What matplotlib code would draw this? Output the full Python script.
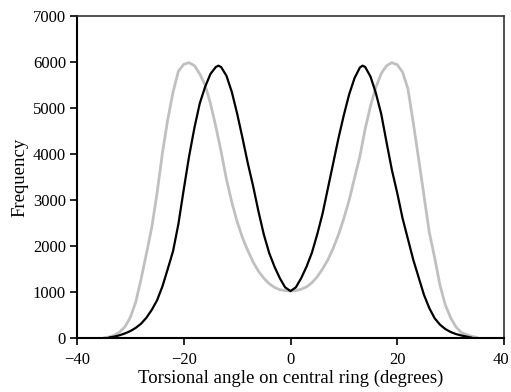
import numpy as np
import matplotlib.pyplot as plt
from matplotlib.transforms import ScaledTranslation

# Gray curve
gray_x = [-35, -34, -33, -32, -31, -30, -29, -28, -27, -26, -25, -24, -23, -22, -21, -20, -19, -18, -17, -16,
          -15, -14, -13, -12, -11, -10, -9, -8, -7, -6, -5, -4, -3, -2, -1, 0,
          1, 2, 3, 4, 5, 6, 7, 8, 9, 10, 11, 12, 13, 14, 15, 16, 17, 18, 19, 20,
          21, 22, 23, 24, 25, 26, 27, 28, 29, 30, 31, 32, 33, 34, 35]
gray_y = [5, 20, 60, 130, 246, 450, 780, 1280, 1830, 2400, 3150, 4020, 4750, 5350, 5800, 5950, 5985, 5920, 5740, 5500,
          5100, 4600, 4050, 3450, 2950, 2530, 2180, 1900, 1650, 1450, 1300, 1180, 1100, 1050, 1030, 1020,
          1030, 1060, 1110, 1200, 1330, 1500, 1700, 1950, 2250, 2600, 3000, 3480, 3950, 4550, 5050, 5450, 5750, 5920, 5985, 5940,
          5780, 5420, 4680, 3900, 3100, 2300, 1750, 1150, 720, 440, 240, 120, 70, 35, 10]

# Black curve
black_x = [-34, -33, -32, -31, -30, -29, -28, -27, -26, -25, -24, -23, -22, -21, -20, -19, -18, -17, -16,
           -15, -14, -13.5, -13, -12, -11, -10, -9, -8, -7, -6, -5, -4, -3, -2, -1, 0,
           1, 2, 3, 4, 5, 6, 7, 8, 9, 10, 11, 12, 13, 13.5, 14, 15, 16, 17, 18, 19, 20,
           21, 22, 23, 24, 25, 26, 27, 28, 29, 30, 31, 32, 33, 34]
black_y = [10, 30, 60, 100, 150, 220, 310, 440, 610, 820, 1120, 1500, 1890, 2480, 3230, 3950, 4570, 5100, 5460,
           5740, 5890, 5920, 5890, 5700, 5350, 4880, 4350, 3800, 3300, 2750, 2250, 1850, 1550, 1300, 1100, 1020,
           1100, 1300, 1550, 1850, 2250, 2700, 3250, 3800, 4350, 4850, 5300, 5650, 5880, 5920, 5890, 5680, 5320, 4870, 4250, 3650, 3150,
           2600, 2150, 1700, 1320, 940, 650, 430, 290, 195, 130, 85, 55, 30, 5]

x_ticks = [-40, -20, 0, 20, 40]
y_ticks = [0, 1000, 2000, 3000, 4000, 5000, 6000, 7000]

plt.rcParams['font.family'] = ['Liberation Serif', 'DejaVu Serif']

fig = plt.figure(figsize=(5.11, 3.92), dpi=100)
ax = fig.add_axes([0.1507, 0.1378, 0.8356, 0.8214])

ax.plot(gray_x, gray_y, color='#c0c0c0', lw=2.0, solid_capstyle='round', solid_joinstyle='round')
ax.plot(black_x, black_y, color='black', lw=1.6, solid_capstyle='round', solid_joinstyle='round')

ax.set_xlim(-40, 40)
ax.set_ylim(0, 7000)
ax.set_xticks(x_ticks)
ax.set_yticks(y_ticks)
ax.tick_params(axis='both', direction='out', length=5, width=1.2, labelsize=12, top=False, right=False)
ax.tick_params(axis='x', pad=5)
ax.tick_params(axis='y', pad=3)

# nudge the last x label so it stays inside the figure
last = ax.get_xticklabels()[-1]
last.set_transform(last.get_transform() + ScaledTranslation(-3 / 100, 0, fig.dpi_scale_trans))

for side in ['left', 'bottom']:
    ax.spines[side].set_linewidth(1.5)
    ax.spines[side].set_color('black')
for side in ['top', 'right']:
    ax.spines[side].set_linewidth(1.2)
    ax.spines[side].set_color('#333333')

ax.set_xlabel('Torsional angle on central ring (degrees)', fontsize=13.5, labelpad=1)
ax.set_ylabel('Frequency', fontsize=13.5, labelpad=3)

fig.savefig('out.png', dpi=100)
